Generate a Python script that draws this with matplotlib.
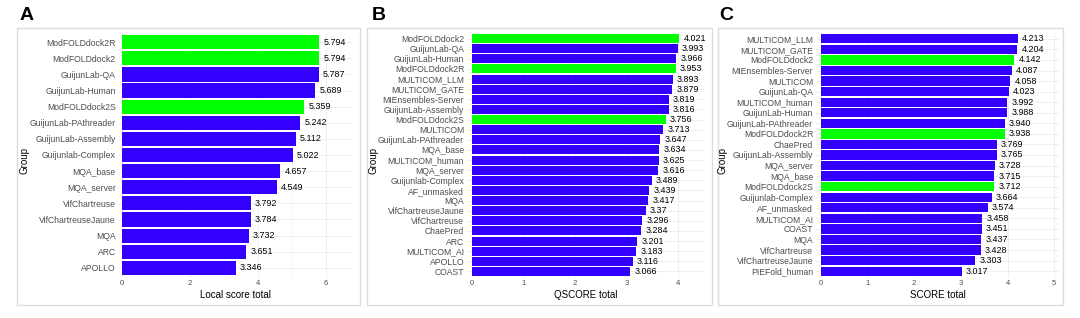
import matplotlib
matplotlib.use("Agg")
import matplotlib.pyplot as plt
from matplotlib.patches import Rectangle

plt.rcParams['font.family'] = ['Liberation Sans', 'DejaVu Sans']

# Panel A - local score
groups_a = ["ModFOLDdock2R", "ModFOLDdock2", "GuijunLab-QA", "GuijunLab-Human", "ModFOLDdock2S",
            "GuijunLab-PAthreader", "GuijunLab-Assembly", "Guijunlab-Complex", "MQA_base", "MQA_server",
            "VifChartreuse", "VifChartreuseJaune", "MQA", "ARC", "APOLLO"]
scores_a = [5.794, 5.794, 5.787, 5.689, 5.359, 5.242, 5.112, 5.022, 4.657, 4.549,
            3.792, 3.784, 3.732, 3.651, 3.346]

# Panel B - QSCORE
groups_b = ["ModFOLDdock2", "GuijunLab-QA", "GuijunLab-Human", "ModFOLDdock2R", "MULTICOM_LLM",
            "MULTICOM_GATE", "MIEnsembles-Server", "GuijunLab-Assembly", "ModFOLDdock2S", "MULTICOM",
            "GuijunLab-PAthreader", "MQA_base", "MULTICOM_human", "MQA_server", "Guijunlab-Complex",
            "AF_unmasked", "MQA", "VifChartreuseJaune", "VifChartreuse", "ChaePred", "ARC",
            "MULTICOM_AI", "APOLLO", "COAST"]
scores_b = [4.021, 3.993, 3.966, 3.953, 3.893, 3.879, 3.819, 3.816, 3.756, 3.713, 3.647, 3.634,
            3.625, 3.616, 3.489, 3.439, 3.417, 3.37, 3.296, 3.284, 3.201, 3.183, 3.116, 3.066]

# Panel C - SCORE
groups_c = ["MULTICOM_LLM", "MULTICOM_GATE", "ModFOLDdock2", "MIEnsembles-Server", "MULTICOM",
            "GuijunLab-QA", "MULTICOM_human", "GuijunLab-Human", "GuijunLab-PAthreader", "ModFOLDdock2R",
            "ChaePred", "GuijunLab-Assembly", "MQA_server", "MQA_base", "ModFOLDdock2S",
            "Guijunlab-Complex", "AF_unmasked", "MULTICOM_AI", "COAST", "MQA", "VifChartreuse",
            "VifChartreuseJaune", "PIEFold_human"]
scores_c = [4.213, 4.204, 4.142, 4.087, 4.058, 4.023, 3.992, 3.988, 3.940, 3.938, 3.769, 3.765,
            3.728, 3.715, 3.712, 3.664, 3.574, 3.458, 3.451, 3.437, 3.428, 3.303, 3.017]

BLUE = "#3300ff"
GREEN = "#00ff00"
W, H = 1080, 318

fig = plt.figure(figsize=(W / 100, H / 100), dpi=100)


def panel(groups, scores, xlabel, letter, px_left, px_right, box, letter_x, group_x, xmax, xticks, fmt):
    top, bottom = 32.5, 277.5
    ax = fig.add_axes([px_left / W, 1 - bottom / H, (px_right - px_left) / W, (bottom - top) / H])
    n = len(groups)
    ypos = list(range(n))
    colors = [GREEN if g.startswith("ModFOLDdock2") else BLUE for g in groups]
    ax.barh(ypos, scores, height=0.88, color=colors, edgecolor="none", zorder=3)
    for y, v in zip(ypos, scores):
        ax.annotate(fmt(v), (v, y), xytext=(3, 0), textcoords="offset points",
                    va="center", ha="left", fontsize=6.4, color="black", zorder=4)
    ax.set_ylim(n - 0.4, -0.6)
    ax.set_xlim(-0.1, xmax)
    ax.set_yticks(ypos)
    ax.set_yticklabels(groups, fontsize=6.2, color="#4d4d4d")
    ax.set_xticks(xticks)
    ax.set_xticklabels([str(t) for t in xticks], fontsize=5.5, color="#4d4d4d")
    ax.set_xticks([t + 1 for t in xticks if t + 1 < xmax and t + 1 not in xticks], minor=True)
    ax.tick_params(length=0, pad=2)
    ax.tick_params(axis="x", which="minor", length=0)
    ax.grid(True, which="major", color="#ebebeb", linewidth=0.6, zorder=0)
    ax.grid(True, which="minor", axis="x", color="#f4f4f4", linewidth=0.4, zorder=0)
    for s in ax.spines.values():
        s.set_visible(False)
    ax.set_xlabel(xlabel, fontsize=7, labelpad=2)
    fig.text(group_x / W, 1 - 160 / H, "Group", rotation=90, fontsize=7, ha="center", va="center")
    fig.text(letter_x / W, 1 - 15 / H, letter, fontsize=14, fontweight="bold", ha="left", va="center")
    x0, x1 = box
    fig.patches.append(Rectangle((x0 / W, 1 - 305 / H), (x1 - x0) / W, 277 / H,
                                 transform=fig.transFigure, fill=False,
                                 edgecolor="#dcdcdc", linewidth=1.0))
    return ax


panel(groups_a, scores_a, "Local score total", "A", 118.6, 351.5, (17, 360), 20, 24,
      6.75, [0, 2, 4, 6], lambda v: f"{v:.3f}")
panel(groups_b, scores_b, "QSCORE total", "B", 467, 704, (367, 712), 372, 374,
      4.5, [0, 1, 2, 3, 4], lambda v: f"{v:g}")
panel(groups_c, scores_c, "SCORE total", "C", 816, 1059, (718, 1063), 719, 723,
      5.1, [0, 1, 2, 3, 4, 5], lambda v: f"{v:.3f}")

fig.savefig("out.png", dpi=100)
